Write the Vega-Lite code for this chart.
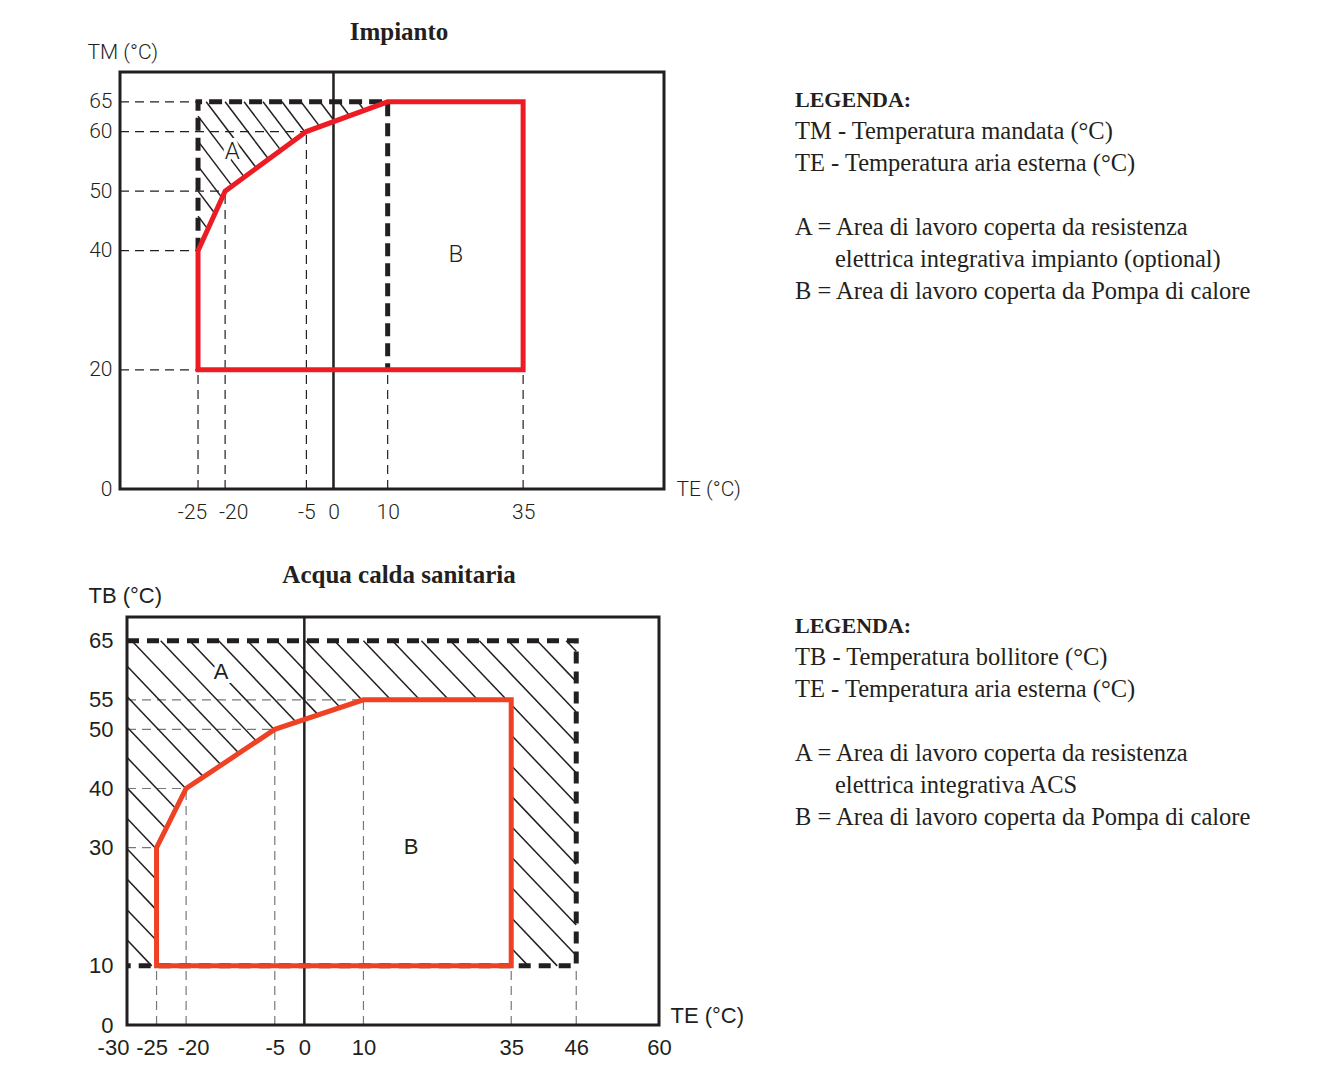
{
  "$schema": "https://vega.github.io/schema/vega-lite/v6.json",
  "background": "white",
  "padding": {"left": 87, "top": 20, "right": 10, "bottom": 5},
  "bounds": "flush",
  "columns": 2,
  "spacing": {"row": 128, "column": 131},
  "config": {
    "view": {"stroke": null},
    "axis": {"domain": false, "ticks": false, "grid": false, "labelColor": "#231f20", "titleColor": "#231f20", "labelFlush": false, "labelOverlap": false, "labelExpr": "replace(datum.label, '−', '-')"}
  },
  "datasets": {
    "c1frame": [{"x": -39.4, "y": 0, "x2": 61, "y2": 70}],
    "c1ref": [
      {"x": -39.4, "y": 65, "x2": -25, "y2": 65},
      {"x": -39.4, "y": 60, "x2": -5, "y2": 60},
      {"x": -39.4, "y": 50, "x2": -20, "y2": 50},
      {"x": -39.4, "y": 40, "x2": -25, "y2": 40},
      {"x": -39.4, "y": 20, "x2": -25, "y2": 20},
      {"x": -25, "y": 0, "x2": -25, "y2": 20},
      {"x": -20, "y": 0, "x2": -20, "y2": 50},
      {"x": -5, "y": 0, "x2": -5, "y2": 60},
      {"x": 10, "y": 0, "x2": 10, "y2": 20},
      {"x": 35, "y": 0, "x2": 35, "y2": 20}
    ],
    "c1zero": [{"x": 0, "y": 0, "x2": 0, "y2": 70}],
    "c1hatch": [
      {"x": -23.5, "y": 65, "x2": -14.2, "y2": 53.85},
      {"x": -20, "y": 65, "x2": -11.96, "y2": 55.35},
      {"x": -16.5, "y": 65, "x2": -9.71, "y2": 56.85},
      {"x": -13, "y": 65, "x2": -7.46, "y2": 58.35},
      {"x": -9.5, "y": 65, "x2": -5.21, "y2": 59.85},
      {"x": -6, "y": 65, "x2": -2.52, "y2": 60.83},
      {"x": -2.5, "y": 65, "x2": 0.22, "y2": 61.74},
      {"x": 1, "y": 65, "x2": 2.96, "y2": 62.65},
      {"x": 4.5, "y": 65, "x2": 5.7, "y2": 63.56},
      {"x": -25, "y": 62.6, "x2": -16.46, "y2": 52.35},
      {"x": -25, "y": 58.4, "x2": -18.71, "y2": 50.85},
      {"x": -25, "y": 54.2, "x2": -20.56, "y2": 48.87},
      {"x": -25, "y": 50, "x2": -21.88, "y2": 46.25},
      {"x": -25, "y": 45.8, "x2": -23.19, "y2": 43.63},
      {"x": -25, "y": 41.6, "x2": -24.5, "y2": 41.0}
    ],
    "c1dash": [
      {"x": -25, "y": 40, "o": 0},
      {"x": -25, "y": 65, "o": 1},
      {"x": 10, "y": 65, "o": 2},
      {"x": 10, "y": 20, "o": 3}
    ],
    "c1red": [
      {"x": -25, "y": 20, "o": 0},
      {"x": -25, "y": 40, "o": 1},
      {"x": -20, "y": 50, "o": 2},
      {"x": -5, "y": 60, "o": 3},
      {"x": 10, "y": 65, "o": 4},
      {"x": 35, "y": 65, "o": 5},
      {"x": 35, "y": 20, "o": 6},
      {"x": -25, "y": 20, "o": 7}
    ],
    "c1labels": [
      {"x": -18.7, "y": 56.6, "t": "A"},
      {"x": 22.6, "y": 39.3, "t": "B"}
    ],
    "c2frame": [{"x": -30, "y": 0, "x2": 60, "y2": 69}],
    "c2ref": [
      {"x": -30, "y": 55, "x2": 10, "y2": 55},
      {"x": -30, "y": 50, "x2": -5, "y2": 50},
      {"x": -30, "y": 40, "x2": -20, "y2": 40},
      {"x": -30, "y": 30, "x2": -25, "y2": 30},
      {"x": -25, "y": 0, "x2": -25, "y2": 10},
      {"x": -20, "y": 0, "x2": -20, "y2": 40},
      {"x": -5, "y": 0, "x2": -5, "y2": 50},
      {"x": 10, "y": 0, "x2": 10, "y2": 55},
      {"x": 35, "y": 0, "x2": 35, "y2": 10},
      {"x": 46, "y": 0, "x2": 46, "y2": 10}
    ],
    "c2zero": [{"x": 0, "y": 0, "x2": 0, "y2": 69}],
    "c2hatch": [
      {"x": -30, "y": 60.7, "x2": -14.06, "y2": 43.96},
      {"x": -30, "y": 55.55, "x2": -17.06, "y2": 41.96},
      {"x": -30, "y": 50.4, "x2": -20.03, "y2": 39.94},
      {"x": -30, "y": 45.26, "x2": -21.72, "y2": 36.57},
      {"x": -30, "y": 40.1, "x2": -23.4, "y2": 33.18},
      {"x": -30, "y": 34.97, "x2": -25, "y2": 29.72},
      {"x": -30, "y": 29.8, "x2": -25, "y2": 24.58},
      {"x": -30, "y": 24.7, "x2": -25, "y2": 19.43},
      {"x": -30, "y": 19.5, "x2": -25, "y2": 14.29},
      {"x": -30, "y": 14.4, "x2": -25.82, "y2": 10},
      {"x": -29.2, "y": 65, "x2": -11.06, "y2": 45.95},
      {"x": -24.3, "y": 65, "x2": -8.07, "y2": 47.96},
      {"x": -19.4, "y": 65, "x2": -5.07, "y2": 49.95},
      {"x": -14.5, "y": 65, "x2": -1.37, "y2": 51.21},
      {"x": -9.6, "y": 65, "x2": 2.35, "y2": 52.45},
      {"x": -4.7, "y": 65, "x2": 6.07, "y2": 53.69},
      {"x": 0.2, "y": 65, "x2": 9.79, "y2": 54.93},
      {"x": 5.1, "y": 65, "x2": 14.62, "y2": 55},
      {"x": 10, "y": 65, "x2": 19.52, "y2": 55},
      {"x": 14.9, "y": 65, "x2": 24.42, "y2": 55},
      {"x": 19.8, "y": 65, "x2": 29.32, "y2": 55},
      {"x": 24.7, "y": 65, "x2": 34.22, "y2": 55},
      {"x": 29.6, "y": 65, "x2": 46, "y2": 47.78},
      {"x": 34.5, "y": 65, "x2": 46, "y2": 52.93},
      {"x": 39.4, "y": 65, "x2": 46, "y2": 58.07},
      {"x": 44.3, "y": 65, "x2": 46, "y2": 63.2},
      {"x": 35, "y": 13.03, "x2": 37.88, "y2": 10},
      {"x": 35, "y": 18.17, "x2": 42.78, "y2": 10},
      {"x": 35, "y": 23.32, "x2": 46, "y2": 11.77},
      {"x": 35, "y": 28.46, "x2": 46, "y2": 16.91},
      {"x": 35, "y": 33.6, "x2": 46, "y2": 22.06},
      {"x": 35, "y": 38.75, "x2": 46, "y2": 27.2},
      {"x": 35, "y": 43.9, "x2": 46, "y2": 32.35},
      {"x": 35, "y": 49.04, "x2": 46, "y2": 37.49},
      {"x": 35, "y": 54.19, "x2": 46, "y2": 42.64}
    ],
    "c2dash": [
      {"x": -30, "y": 65, "o": 0},
      {"x": 46, "y": 65, "o": 1},
      {"x": 46, "y": 10, "o": 2},
      {"x": -30, "y": 10, "o": 3}
    ],
    "c2red": [
      {"x": -25, "y": 10, "o": 0},
      {"x": -25, "y": 30, "o": 1},
      {"x": -20, "y": 40, "o": 2},
      {"x": -5, "y": 50, "o": 3},
      {"x": 10, "y": 55, "o": 4},
      {"x": 35, "y": 55, "o": 5},
      {"x": 35, "y": 10, "o": 6},
      {"x": -25, "y": 10, "o": 7}
    ],
    "c2labels": [
      {"x": -14.1, "y": 59.7, "t": "A"},
      {"x": 18.05, "y": 30.1, "t": "B"}
    ],
    "leg1": [
      {"line": 0, "indent": 0, "h": 1, "t": "LEGENDA:"},
      {"line": 1, "indent": 0, "h": 0, "t": "TM - Temperatura mandata (°C)"},
      {"line": 2, "indent": 0, "h": 0, "t": "TE - Temperatura aria esterna (°C)"},
      {"line": 4, "indent": 0, "h": 0, "t": "A = Area di lavoro coperta da resistenza"},
      {"line": 5, "indent": 1, "h": 0, "t": "elettrica integrativa impianto (optional)"},
      {"line": 6, "indent": 0, "h": 0, "t": "B = Area di lavoro coperta da Pompa di calore"}
    ],
    "leg2": [
      {"line": 0, "indent": 0, "h": 1, "t": "LEGENDA:"},
      {"line": 1, "indent": 0, "h": 0, "t": "TB - Temperatura bollitore (°C)"},
      {"line": 2, "indent": 0, "h": 0, "t": "TE - Temperatura aria esterna (°C)"},
      {"line": 4, "indent": 0, "h": 0, "t": "A = Area di lavoro coperta da resistenza"},
      {"line": 5, "indent": 1, "h": 0, "t": "elettrica integrativa ACS"},
      {"line": 6, "indent": 0, "h": 0, "t": "B = Area di lavoro coperta da Pompa di calore"}
    ]
  },
  "concat": [
    {
      "width": 544,
      "height": 417,
      "title": {"text": "Impianto", "font": "Liberation Serif", "fontSize": 25, "fontWeight": "bold", "color": "#231f20", "anchor": "middle", "frame": "group", "baseline": "alphabetic", "offset": -24, "dx": 7},
      "encoding": {
        "x": {"field": "x", "type": "quantitative", "scale": {"domain": [-39.4, 61], "nice": false, "zero": false},
          "axis": {"values": [-25, -20, -5, 0, 10, 35], "title": "TE (°C)", "labelFont": "Roboto", "labelFontSize": 21, "labelFontWeight": 300, "labelPadding": 12,
            "labelOffset": {"condition": [{"test": "datum.value == -25", "value": -6}, {"test": "datum.value == -20", "value": 8}], "value": 0},
            "titleFont": "Roboto", "titleFontSize": 21, "titleFontWeight": 300, "titleAngle": 0, "titleX": 556, "titleY": 0, "titleAlign": "left", "titleBaseline": "middle"}},
        "y": {"field": "y", "type": "quantitative", "scale": {"domain": [0, 70], "nice": false, "zero": false},
          "axis": {"values": [0, 20, 40, 50, 60, 65], "title": "TM (°C)", "labelFont": "Roboto", "labelFontSize": 21, "labelFontWeight": 300, "labelPadding": 8,
            "titleFont": "Roboto", "titleFontSize": 21, "titleFontWeight": 300, "titleAngle": 0, "titleX": -33, "titleY": -20, "titleAlign": "left", "titleBaseline": "middle"}}
      },
      "layer": [
        {"data": {"name": "c1ref"}, "mark": {"type": "rule", "color": "#231f20", "strokeWidth": 1.2, "strokeDash": [9, 6]},
          "encoding": {"x2": {"field": "x2"}, "y2": {"field": "y2"}}},
        {"data": {"name": "c1zero"}, "mark": {"type": "rule", "color": "#231f20", "strokeWidth": 2.5},
          "encoding": {"x2": {"field": "x2"}, "y2": {"field": "y2"}}},
        {"data": {"name": "c1hatch"}, "mark": {"type": "rule", "color": "#231f20", "strokeWidth": 1.5},
          "encoding": {"x2": {"field": "x2"}, "y2": {"field": "y2"}}},
        {"data": {"name": "c1dash"}, "mark": {"type": "line", "color": "#231f20", "strokeWidth": 5, "strokeDash": [13, 7]},
          "encoding": {"order": {"field": "o", "type": "quantitative"}}},
        {"data": {"name": "c1red"}, "mark": {"type": "line", "color": "#ed1c24", "strokeWidth": 5, "strokeJoin": "miter", "strokeCap": "square"},
          "encoding": {"order": {"field": "o", "type": "quantitative"}}},
        {"data": {"name": "c1labels"}, "mark": {"type": "text", "font": "Roboto", "fontSize": 24, "fontWeight": 300, "fill": "white", "stroke": "white", "strokeWidth": 8},
          "encoding": {"text": {"field": "t"}}},
        {"data": {"name": "c1labels"}, "mark": {"type": "text", "font": "Roboto", "fontSize": 24, "fontWeight": 300, "color": "#231f20"},
          "encoding": {"text": {"field": "t"}}},
        {"data": {"name": "c1frame"}, "mark": {"type": "rect", "filled": false, "stroke": "#231f20", "strokeWidth": 3},
          "encoding": {"x2": {"field": "x2"}, "y2": {"field": "y2"}}}
      ]
    },
    {
      "width": 460,
      "height": 250,
      "data": {"name": "leg1"},
      "encoding": {
        "x": {"field": "indent", "type": "quantitative", "scale": {"domain": [0, 1], "range": [0, 40]}, "axis": null},
        "y": {"field": "line", "type": "quantitative", "scale": {"domain": [0, 6], "range": [28, 220]}, "axis": null},
        "text": {"field": "t"}
      },
      "layer": [
        {"transform": [{"filter": "datum.h == 1"}], "mark": {"type": "text", "align": "left", "baseline": "middle", "font": "Liberation Serif", "fontSize": 22, "fontWeight": "bold", "color": "#231f20"}},
        {"transform": [{"filter": "datum.h == 0"}], "mark": {"type": "text", "align": "left", "baseline": "middle", "font": "Liberation Serif", "fontSize": 24.5, "color": "#231f20"}}
      ]
    },
    {
      "width": 539,
      "height": 408,
      "title": {"text": "Acqua calda sanitaria", "font": "Liberation Serif", "fontSize": 25, "fontWeight": "bold", "color": "#231f20", "anchor": "middle", "frame": "group", "baseline": "alphabetic", "offset": -24, "dx": 9.5},
      "encoding": {
        "x": {"field": "x", "type": "quantitative", "scale": {"domain": [-31.184, 60], "nice": false, "zero": false},
          "axis": {"values": [-30, -25, -20, -5, 0, 10, 35, 46, 60], "title": "TE (°C)", "labelFont": "Liberation Sans", "labelFontSize": 22, "labelPadding": 12,
            "labelOffset": {"condition": [{"test": "datum.value == -30", "value": -14}, {"test": "datum.value == -25", "value": -5}, {"test": "datum.value == -20", "value": 7}], "value": 0},
            "titleFont": "Liberation Sans", "titleFontSize": 22, "titleFontWeight": "normal", "titleAngle": 0, "titleX": 550, "titleY": -10, "titleAlign": "left", "titleBaseline": "middle"}},
        "y": {"field": "y", "type": "quantitative", "scale": {"domain": [0, 69], "nice": false, "zero": false},
          "axis": {"values": [0, 10, 30, 40, 50, 55, 65], "title": "TB (°C)", "offset": -7, "labelFont": "Liberation Sans", "labelFontSize": 22, "labelPadding": 14,
            "titleFont": "Liberation Sans", "titleFontSize": 22, "titleFontWeight": "normal", "titleAngle": 0, "titleX": -39, "titleY": -22, "titleAlign": "left", "titleBaseline": "middle"}}
      },
      "layer": [
        {"data": {"name": "c2ref"}, "mark": {"type": "rule", "color": "#77787b", "strokeWidth": 1.2, "strokeDash": [9, 6]},
          "encoding": {"x2": {"field": "x2"}, "y2": {"field": "y2"}}},
        {"data": {"name": "c2zero"}, "mark": {"type": "rule", "color": "#231f20", "strokeWidth": 2.5},
          "encoding": {"x2": {"field": "x2"}, "y2": {"field": "y2"}}},
        {"data": {"name": "c2hatch"}, "mark": {"type": "rule", "color": "#231f20", "strokeWidth": 1.5},
          "encoding": {"x2": {"field": "x2"}, "y2": {"field": "y2"}}},
        {"data": {"name": "c2dash"}, "mark": {"type": "line", "color": "#231f20", "strokeWidth": 5, "strokeDash": [12, 8]},
          "encoding": {"order": {"field": "o", "type": "quantitative"}}},
        {"data": {"name": "c2red"}, "mark": {"type": "line", "color": "#ef4123", "strokeWidth": 5, "strokeJoin": "miter", "strokeCap": "square"},
          "encoding": {"order": {"field": "o", "type": "quantitative"}}},
        {"data": {"name": "c2labels"}, "mark": {"type": "text", "font": "Liberation Sans", "fontSize": 22, "fill": "white", "stroke": "white", "strokeWidth": 8},
          "encoding": {"text": {"field": "t"}}},
        {"data": {"name": "c2labels"}, "mark": {"type": "text", "font": "Liberation Sans", "fontSize": 22, "color": "#231f20"},
          "encoding": {"text": {"field": "t"}}},
        {"data": {"name": "c2frame"}, "mark": {"type": "rect", "filled": false, "stroke": "#231f20", "strokeWidth": 3},
          "encoding": {"x2": {"field": "x2"}, "y2": {"field": "y2"}}}
      ]
    },
    {
      "width": 460,
      "height": 250,
      "data": {"name": "leg2"},
      "encoding": {
        "x": {"field": "indent", "type": "quantitative", "scale": {"domain": [0, 1], "range": [0, 40]}, "axis": null},
        "y": {"field": "line", "type": "quantitative", "scale": {"domain": [0, 6], "range": [9, 201]}, "axis": null},
        "text": {"field": "t"}
      },
      "layer": [
        {"transform": [{"filter": "datum.h == 1"}], "mark": {"type": "text", "align": "left", "baseline": "middle", "font": "Liberation Serif", "fontSize": 22, "fontWeight": "bold", "color": "#231f20"}},
        {"transform": [{"filter": "datum.h == 0"}], "mark": {"type": "text", "align": "left", "baseline": "middle", "font": "Liberation Serif", "fontSize": 24.5, "color": "#231f20"}}
      ]
    }
  ]
}
